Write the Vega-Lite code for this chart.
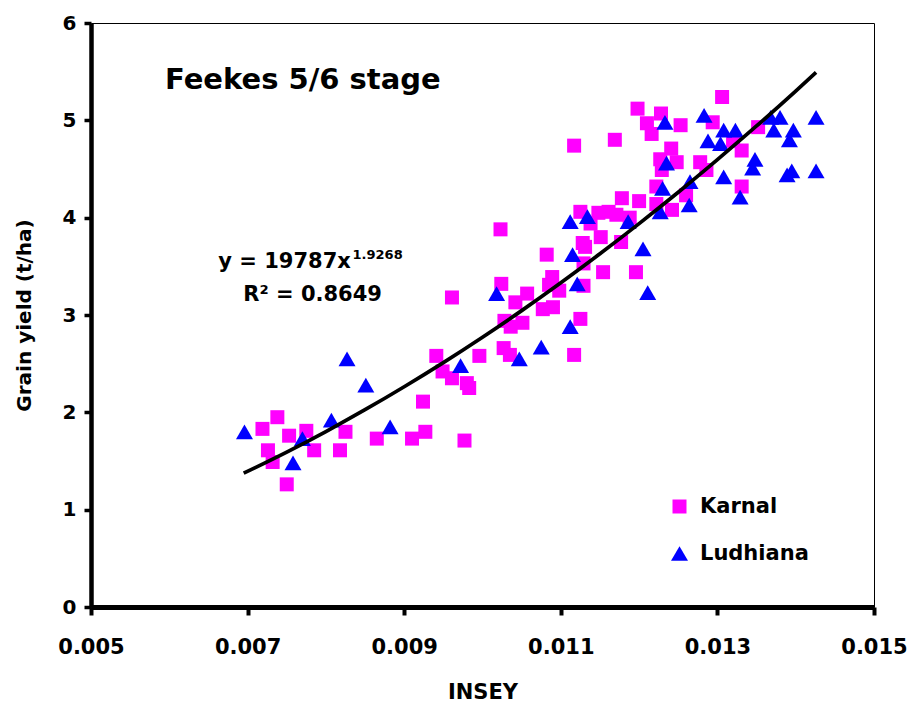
{
  "$schema": "https://vega.github.io/schema/vega-lite/v6.json",
  "autosize": {"type": "none"},
  "padding": {"left": 91, "top": 23, "right": 37, "bottom": 95},
  "width": 783,
  "height": 584,
  "background": "white",
  "config": {
    "view": {"stroke": "#000000", "strokeWidth": 1},
    "font": "DejaVu Sans",
    "axis": {
      "grid": false,
      "domainColor": "#000000",
      "tickColor": "#000000",
      "labelColor": "#000000",
      "titleColor": "#000000",
      "labelFont": "DejaVu Sans",
      "titleFont": "DejaVu Sans",
      "labelFontWeight": "bold",
      "titleFontWeight": "bold"
    },
    "legend": {
      "labelFont": "DejaVu Sans",
      "labelFontWeight": "bold",
      "labelFontSize": 21,
      "labelColor": "#000000"
    }
  },
  "datasets": {
    "points": [
      {"site": "Karnal", "insey": 0.00738, "yield": 1.95},
      {"site": "Karnal", "insey": 0.00719, "yield": 1.83},
      {"site": "Karnal", "insey": 0.00753, "yield": 1.76},
      {"site": "Karnal", "insey": 0.00775, "yield": 1.81},
      {"site": "Karnal", "insey": 0.00726, "yield": 1.61},
      {"site": "Karnal", "insey": 0.00732, "yield": 1.49},
      {"site": "Karnal", "insey": 0.00785, "yield": 1.61},
      {"site": "Karnal", "insey": 0.0075, "yield": 1.26},
      {"site": "Karnal", "insey": 0.00825, "yield": 1.8},
      {"site": "Karnal", "insey": 0.00818, "yield": 1.61},
      {"site": "Karnal", "insey": 0.00865, "yield": 1.73},
      {"site": "Karnal", "insey": 0.0091, "yield": 1.73},
      {"site": "Karnal", "insey": 0.00927, "yield": 1.8},
      {"site": "Karnal", "insey": 0.00924, "yield": 2.11},
      {"site": "Karnal", "insey": 0.00977, "yield": 1.71},
      {"site": "Karnal", "insey": 0.00941, "yield": 2.58},
      {"site": "Karnal", "insey": 0.00949, "yield": 2.42},
      {"site": "Karnal", "insey": 0.00961, "yield": 2.35},
      {"site": "Karnal", "insey": 0.0098, "yield": 2.3},
      {"site": "Karnal", "insey": 0.00983, "yield": 2.25},
      {"site": "Karnal", "insey": 0.00996, "yield": 2.58},
      {"site": "Karnal", "insey": 0.01027, "yield": 2.66},
      {"site": "Karnal", "insey": 0.01035, "yield": 2.59},
      {"site": "Karnal", "insey": 0.01023, "yield": 3.88},
      {"site": "Karnal", "insey": 0.00961, "yield": 3.18},
      {"site": "Karnal", "insey": 0.01024, "yield": 3.32},
      {"site": "Karnal", "insey": 0.01057, "yield": 3.22},
      {"site": "Karnal", "insey": 0.01042, "yield": 3.13},
      {"site": "Karnal", "insey": 0.01077, "yield": 3.06},
      {"site": "Karnal", "insey": 0.0109, "yield": 3.08},
      {"site": "Karnal", "insey": 0.01028, "yield": 2.94},
      {"site": "Karnal", "insey": 0.01036, "yield": 2.88},
      {"site": "Karnal", "insey": 0.01051, "yield": 2.92},
      {"site": "Karnal", "insey": 0.01117, "yield": 2.59},
      {"site": "Karnal", "insey": 0.01125, "yield": 2.96},
      {"site": "Karnal", "insey": 0.01082, "yield": 3.62},
      {"site": "Karnal", "insey": 0.01089, "yield": 3.39},
      {"site": "Karnal", "insey": 0.01085, "yield": 3.31},
      {"site": "Karnal", "insey": 0.01098, "yield": 3.25},
      {"site": "Karnal", "insey": 0.01154, "yield": 3.44},
      {"site": "Karnal", "insey": 0.01129, "yield": 3.3},
      {"site": "Karnal", "insey": 0.01129, "yield": 3.53},
      {"site": "Karnal", "insey": 0.01128, "yield": 3.74},
      {"site": "Karnal", "insey": 0.01131, "yield": 3.7},
      {"site": "Karnal", "insey": 0.01151, "yield": 3.8},
      {"site": "Karnal", "insey": 0.01177, "yield": 3.75},
      {"site": "Karnal", "insey": 0.01125, "yield": 4.06},
      {"site": "Karnal", "insey": 0.01196, "yield": 3.44},
      {"site": "Karnal", "insey": 0.01306, "yield": 5.24},
      {"site": "Karnal", "insey": 0.01198, "yield": 5.12},
      {"site": "Karnal", "insey": 0.01228, "yield": 5.07},
      {"site": "Karnal", "insey": 0.0121, "yield": 4.97},
      {"site": "Karnal", "insey": 0.01253, "yield": 4.95},
      {"site": "Karnal", "insey": 0.01216, "yield": 4.86},
      {"site": "Karnal", "insey": 0.01294, "yield": 4.98},
      {"site": "Karnal", "insey": 0.01352, "yield": 4.93},
      {"site": "Karnal", "insey": 0.01169, "yield": 4.8},
      {"site": "Karnal", "insey": 0.01117, "yield": 4.74},
      {"site": "Karnal", "insey": 0.01241, "yield": 4.71},
      {"site": "Karnal", "insey": 0.01227, "yield": 4.6},
      {"site": "Karnal", "insey": 0.01248, "yield": 4.57},
      {"site": "Karnal", "insey": 0.01278, "yield": 4.57},
      {"site": "Karnal", "insey": 0.01286, "yield": 4.49},
      {"site": "Karnal", "insey": 0.01229, "yield": 4.49},
      {"site": "Karnal", "insey": 0.0132, "yield": 4.79},
      {"site": "Karnal", "insey": 0.01331, "yield": 4.69},
      {"site": "Karnal", "insey": 0.01331, "yield": 4.32},
      {"site": "Karnal", "insey": 0.01222, "yield": 4.32},
      {"site": "Karnal", "insey": 0.01178, "yield": 4.2},
      {"site": "Karnal", "insey": 0.012, "yield": 4.17},
      {"site": "Karnal", "insey": 0.01222, "yield": 4.14},
      {"site": "Karnal", "insey": 0.01242, "yield": 4.08},
      {"site": "Karnal", "insey": 0.0126, "yield": 4.23},
      {"site": "Karnal", "insey": 0.01148, "yield": 4.05},
      {"site": "Karnal", "insey": 0.01161, "yield": 4.06},
      {"site": "Karnal", "insey": 0.01171, "yield": 4.03},
      {"site": "Karnal", "insey": 0.01138, "yield": 3.94},
      {"site": "Karnal", "insey": 0.01188, "yield": 4.0},
      {"site": "Ludhiana", "insey": 0.00696, "yield": 1.8},
      {"site": "Ludhiana", "insey": 0.00827, "yield": 2.55},
      {"site": "Ludhiana", "insey": 0.00851, "yield": 2.28},
      {"site": "Ludhiana", "insey": 0.00807, "yield": 1.92},
      {"site": "Ludhiana", "insey": 0.00882, "yield": 1.85},
      {"site": "Ludhiana", "insey": 0.0077, "yield": 1.73},
      {"site": "Ludhiana", "insey": 0.00758, "yield": 1.48},
      {"site": "Ludhiana", "insey": 0.00972, "yield": 2.48},
      {"site": "Ludhiana", "insey": 0.01047, "yield": 2.55},
      {"site": "Ludhiana", "insey": 0.01018, "yield": 3.22},
      {"site": "Ludhiana", "insey": 0.01075, "yield": 2.67},
      {"site": "Ludhiana", "insey": 0.01112, "yield": 2.88},
      {"site": "Ludhiana", "insey": 0.01121, "yield": 3.32},
      {"site": "Ludhiana", "insey": 0.01115, "yield": 3.62},
      {"site": "Ludhiana", "insey": 0.01112, "yield": 3.96},
      {"site": "Ludhiana", "insey": 0.01134, "yield": 4.01},
      {"site": "Ludhiana", "insey": 0.01186, "yield": 3.96},
      {"site": "Ludhiana", "insey": 0.01205, "yield": 3.68},
      {"site": "Ludhiana", "insey": 0.01211, "yield": 3.23},
      {"site": "Ludhiana", "insey": 0.01283, "yield": 5.05},
      {"site": "Ludhiana", "insey": 0.01233, "yield": 4.98},
      {"site": "Ludhiana", "insey": 0.01308, "yield": 4.9},
      {"site": "Ludhiana", "insey": 0.01323, "yield": 4.9},
      {"site": "Ludhiana", "insey": 0.01368, "yield": 5.03},
      {"site": "Ludhiana", "insey": 0.0138, "yield": 5.03},
      {"site": "Ludhiana", "insey": 0.01372, "yield": 4.9},
      {"site": "Ludhiana", "insey": 0.01397, "yield": 4.9},
      {"site": "Ludhiana", "insey": 0.01426, "yield": 5.03},
      {"site": "Ludhiana", "insey": 0.01288, "yield": 4.79},
      {"site": "Ludhiana", "insey": 0.01304, "yield": 4.76},
      {"site": "Ludhiana", "insey": 0.01392, "yield": 4.8},
      {"site": "Ludhiana", "insey": 0.01235, "yield": 4.56},
      {"site": "Ludhiana", "insey": 0.01348, "yield": 4.6},
      {"site": "Ludhiana", "insey": 0.01345, "yield": 4.51},
      {"site": "Ludhiana", "insey": 0.01308, "yield": 4.42},
      {"site": "Ludhiana", "insey": 0.01395, "yield": 4.48},
      {"site": "Ludhiana", "insey": 0.01389, "yield": 4.44},
      {"site": "Ludhiana", "insey": 0.01426, "yield": 4.48},
      {"site": "Ludhiana", "insey": 0.01265, "yield": 4.37},
      {"site": "Ludhiana", "insey": 0.0123, "yield": 4.3},
      {"site": "Ludhiana", "insey": 0.01329, "yield": 4.21},
      {"site": "Ludhiana", "insey": 0.01264, "yield": 4.13},
      {"site": "Ludhiana", "insey": 0.01227, "yield": 4.06}
    ],
    "curve": [
      {"insey": 0.00695, "yield": 1.375},
      {"insey": 0.0075, "yield": 1.592},
      {"insey": 0.008, "yield": 1.803},
      {"insey": 0.0085, "yield": 2.027},
      {"insey": 0.009, "yield": 2.263},
      {"insey": 0.0095, "yield": 2.511},
      {"insey": 0.01, "yield": 2.772},
      {"insey": 0.0105, "yield": 3.045},
      {"insey": 0.011, "yield": 3.331},
      {"insey": 0.0115, "yield": 3.629},
      {"insey": 0.012, "yield": 3.939},
      {"insey": 0.0125, "yield": 4.261},
      {"insey": 0.013, "yield": 4.596},
      {"insey": 0.0135, "yield": 4.942},
      {"insey": 0.014, "yield": 5.301},
      {"insey": 0.01426, "yield": 5.492}
    ],
    "title": [{"label": "Feekes 5/6 stage", "insey": 0.005945, "yield": 5.325}],
    "equation": [
      {"label": "y = 19787x", "insey": 0.006626, "yield": 3.488},
      {"label": "R² = 0.8649", "insey": 0.006945, "yield": 3.145}
    ],
    "exponent": [{"label": "1.9268", "insey": 0.00834, "yield": 3.58}]
  },
  "layer": [
    {
      "data": {"name": "points"},
      "mark": {"type": "point", "filled": true, "opacity": 1, "strokeWidth": 0},
      "encoding": {
        "x": {
          "field": "insey", "type": "quantitative",
          "scale": {"domain": [0.005, 0.015], "nice": false, "zero": false},
          "axis": {
            "title": "INSEY", "titleFontSize": 21, "titlePadding": 24,
            "values": [0.005, 0.007, 0.009, 0.011, 0.013, 0.015],
            "format": ".3f", "labelFontSize": 21, "labelPadding": 21,
            "tickSize": 8, "tickWidth": 4, "domainWidth": 5,
            "labelFlush": false, "labelOverlap": false
          }
        },
        "y": {
          "field": "yield", "type": "quantitative",
          "scale": {"domain": [0, 6], "nice": false},
          "axis": {
            "title": "Grain yield (t/ha)", "titleFontSize": 20, "titlePadding": 28,
            "values": [0, 1, 2, 3, 4, 5, 6], "format": "d",
            "labelFontSize": 20, "labelPadding": 8,
            "tickSize": 7, "tickWidth": 3.5, "domainWidth": 4.5,
            "labelFlush": false, "labelOverlap": false
          }
        },
        "color": {
          "field": "site", "type": "nominal",
          "scale": {"domain": ["Karnal", "Ludhiana"], "range": ["#FF00FF", "#0000FF"]},
          "legend": {"title": null, "orient": "none", "legendX": 578, "legendY": 473, "padding": 0, "rowPadding": 25, "labelOffset": 10}
        },
        "shape": {
          "field": "site", "type": "nominal",
          "scale": {"domain": ["Karnal", "Ludhiana"], "range": ["square", "triangle-up"]}
        },
        "size": {
          "field": "site", "type": "nominal",
          "scale": {"domain": ["Karnal", "Ludhiana"], "range": [196, 289]}
        }
      }
    },
    {
      "data": {"name": "curve"},
      "mark": {"type": "line", "color": "#000000", "strokeWidth": 3.7, "interpolate": "monotone"},
      "encoding": {
        "x": {"field": "insey", "type": "quantitative"},
        "y": {"field": "yield", "type": "quantitative"}
      }
    },
    {
      "data": {"name": "title"},
      "mark": {"type": "text", "align": "left", "baseline": "alphabetic", "font": "DejaVu Sans", "fontWeight": "bold", "fontSize": 29, "color": "#000000"},
      "encoding": {
        "x": {"field": "insey", "type": "quantitative"},
        "y": {"field": "yield", "type": "quantitative"},
        "text": {"field": "label"}
      }
    },
    {
      "data": {"name": "equation"},
      "mark": {"type": "text", "align": "left", "baseline": "alphabetic", "font": "DejaVu Sans", "fontWeight": "bold", "fontSize": 21, "color": "#000000"},
      "encoding": {
        "x": {"field": "insey", "type": "quantitative"},
        "y": {"field": "yield", "type": "quantitative"},
        "text": {"field": "label"}
      }
    },
    {
      "data": {"name": "exponent"},
      "mark": {"type": "text", "align": "left", "baseline": "alphabetic", "font": "DejaVu Sans", "fontWeight": "bold", "fontSize": 13, "color": "#000000"},
      "encoding": {
        "x": {"field": "insey", "type": "quantitative"},
        "y": {"field": "yield", "type": "quantitative"},
        "text": {"field": "label"}
      }
    }
  ]
}
